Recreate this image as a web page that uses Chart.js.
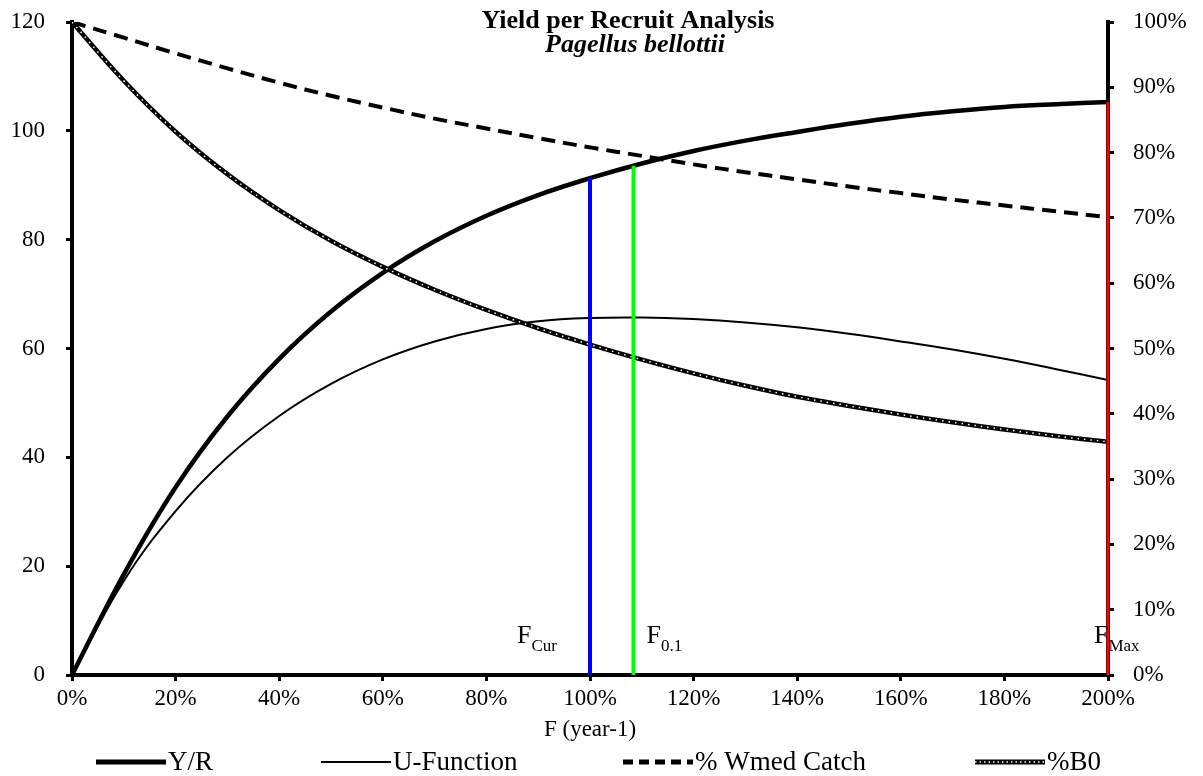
<!DOCTYPE html>
<html>
<head>
<meta charset="utf-8">
<script src="https://cdn.jsdelivr.net/npm/chart.js@4.4.0/dist/chart.umd.min.js"></script>
<style>
  html, body { margin: 0; padding: 0; background: #fff; }
  canvas { display: block; }
</style>
</head>
<body>
<canvas id="yprChart" width="1203" height="776"></canvas>
<script>
// ---- data ----
const fValues = [0, 10, 20, 30, 40, 50, 60, 70, 80, 90, 100, 110, 120, 130, 140, 150, 160, 170, 180, 190, 200];
const yieldPerRecruit = [0, 18.5, 34.5, 47.5, 58.1, 66.8, 73.9, 79.7, 84.4, 88.2, 91.3, 94, 96.3, 98.2, 99.8, 101.3, 102.6, 103.6, 104.4, 104.9, 105.3];
const uFunction = [0, 17.3, 30.1, 40, 47.6, 53.5, 58, 61.3, 63.6, 65, 65.6, 65.7, 65.4, 64.8, 63.9, 62.7, 61.3, 59.8, 58.1, 56.2, 54.2];
const wmedCatch = [100, 97.6, 95.2, 92.9, 90.7, 88.7, 86.9, 85.2, 83.7, 82.2, 80.8, 79.5, 78.2, 77, 75.9, 74.8, 73.8, 72.8, 71.9, 71, 70.1];
const biomassB0 = [100, 91, 83.2, 76.7, 71.2, 66.5, 62.5, 59, 55.9, 53.1, 50.6, 48.3, 46.2, 44.3, 42.6, 41.2, 39.9, 38.7, 37.6, 36.6, 35.7];

const refNames = ['Cur', '0.1', 'Max'];
const refF = [100, 108.4, 200];
const refYield = [91.3, 93.6, 105.3];
const refColors = ['#0000ff', '#00ff00', '#ff0000'];

const legendNames = ['Y/R', 'U-Function', '% Wmed Catch', '%B0'];

const SERIF = '"Liberation Serif", "DejaVu Serif", serif';

function pts(ys) {
    return fValues.map(function (f, i) { return { x: f, y: ys[i] }; });
}

const datasets = [];

// reference lines (F cur, F0.1, F max)
refF.forEach(function (f, i) {
    datasets.push({
        label: 'F' + refNames[i],
        data: [{ x: f, y: 0 }, { x: f, y: refYield[i] }],
        borderColor: refColors[i],
        borderWidth: i === 2 ? 3 : 4,
        tension: 0,
        clip: 4,
        yAxisID: 'y'
    });
});

// %B0 : white dots on a black line
datasets.push({
    label: '%B0 dots',
    data: pts(biomassB0),
    borderColor: '#ffffff',
    borderWidth: 1.5,
    borderDash: [1.5, 5],
    yAxisID: 'yPct'
});
datasets.push({
    label: '%B0',
    data: pts(biomassB0),
    borderColor: '#000000',
    borderWidth: 4.5,
    yAxisID: 'yPct'
});
datasets.push({
    label: '% Wmed Catch',
    data: pts(wmedCatch),
    borderColor: '#000000',
    borderWidth: 4,
    borderDash: [14, 8],
    yAxisID: 'yPct'
});
datasets.push({
    label: 'U-Function',
    data: pts(uFunction),
    borderColor: '#000000',
    borderWidth: 2,
    yAxisID: 'y'
});
datasets.push({
    label: 'Y/R',
    data: pts(yieldPerRecruit),
    borderColor: '#000000',
    borderWidth: 4.5,
    yAxisID: 'y'
});

// titles, F labels and bottom legend
const textPlugin = {
    id: 'textPlugin',
    afterDraw: function (chart) {
        const ctx = chart.ctx;
        const xs = chart.scales.x;
        const area = chart.chartArea;
        ctx.save();
        ctx.fillStyle = '#000';
        ctx.textBaseline = 'alphabetic';

        // title
        ctx.textAlign = 'center';
        ctx.font = 'bold 26px ' + SERIF;
        ctx.fillText('Yield per Recruit Analysis', 628, 28);
        ctx.font = 'italic bold 26px ' + SERIF;
        ctx.fillText('Pagellus bellottii', 635, 52);

        // F labels
        ctx.textAlign = 'left';
        const offs = [-73, 13, -14];
        refF.forEach(function (f, i) {
            const px = xs.getPixelForValue(f) + offs[i];
            ctx.font = '26px ' + SERIF;
            ctx.fillText('F', px, area.bottom - 32);
            const w = ctx.measureText('F').width;
            ctx.font = '17px ' + SERIF;
            ctx.fillText(refNames[i], px + w, area.bottom - 24);
        });

        // legend
        const ly = 762;
        const starts = [96, 321, 623, 975];
        const sw = 70;
        ctx.font = '27px ' + SERIF;
        ctx.textBaseline = 'middle';
        starts.forEach(function (sx, i) {
            ctx.lineCap = 'butt';
            if (i === 0) {
                ctx.lineWidth = 5; ctx.setLineDash([]);
                ctx.beginPath(); ctx.moveTo(sx, ly); ctx.lineTo(sx + sw, ly); ctx.stroke();
            } else if (i === 1) {
                ctx.lineWidth = 2; ctx.setLineDash([]);
                ctx.beginPath(); ctx.moveTo(sx, ly); ctx.lineTo(sx + sw, ly); ctx.stroke();
            } else if (i === 2) {
                ctx.lineWidth = 5; ctx.setLineDash([10, 6]);
                ctx.beginPath(); ctx.moveTo(sx, ly); ctx.lineTo(sx + sw, ly); ctx.stroke();
            } else {
                ctx.lineWidth = 5; ctx.setLineDash([]);
                ctx.beginPath(); ctx.moveTo(sx, ly); ctx.lineTo(sx + sw, ly); ctx.stroke();
                ctx.strokeStyle = '#fff'; ctx.lineWidth = 1.5; ctx.setLineDash([1.5, 3]);
                ctx.beginPath(); ctx.moveTo(sx, ly); ctx.lineTo(sx + sw, ly); ctx.stroke();
                ctx.strokeStyle = '#000';
            }
            ctx.setLineDash([]);
            ctx.fillText(legendNames[i], sx + sw + 2, ly + 1);
        });
        ctx.restore();
    }
};

function fixVertical(width) {
    return function (s) {
        s.width = width;
        s.paddingTop = 0;
        s.paddingBottom = 0;
    };
}

new Chart(document.getElementById('yprChart').getContext('2d'), {
    type: 'line',
    data: { datasets: datasets },
    plugins: [textPlugin],
    options: {
        responsive: false,
        animation: false,
        layout: { padding: { top: 22, left: 0, right: 0, bottom: 32 } },
        elements: {
            point: { radius: 0 },
            line: { tension: 0.4 }
        },
        plugins: {
            legend: { display: false },
            tooltip: { enabled: false },
            title: { display: false }
        },
        scales: {
            x: {
                type: 'linear',
                min: 0,
                max: 200,
                ticks: {
                    stepSize: 20,
                    color: '#000',
                    padding: 4,
                    font: { family: SERIF, size: 23 },
                    callback: function (v) { return v + '%'; }
                },
                grid: { drawOnChartArea: false, color: '#000', lineWidth: 3, tickLength: 6 },
                border: { color: '#000', width: 4 },
                title: {
                    display: true,
                    text: 'F (year-1)',
                    color: '#000',
                    font: { family: SERIF, size: 23 },
                    padding: { top: 0, bottom: 0 }
                },
                afterFit: function (s) { s.height = 69; }
            },
            y: {
                position: 'left',
                min: 0,
                max: 120,
                ticks: {
                    stepSize: 20,
                    color: '#000',
                    padding: 21,
                    font: { family: SERIF, size: 23 }
                },
                grid: { drawOnChartArea: false, color: '#000', lineWidth: 3, tickLength: 6 },
                border: { color: '#000', width: 4 },
                afterFit: fixVertical(72)
            },
            yPct: {
                position: 'right',
                min: 0,
                max: 100,
                ticks: {
                    stepSize: 10,
                    color: '#000',
                    padding: 19,
                    font: { family: SERIF, size: 23 },
                    callback: function (v) { return v + '%'; }
                },
                grid: { drawOnChartArea: false, color: '#000', lineWidth: 3, tickLength: 6 },
                border: { color: '#000', width: 4 },
                afterFit: fixVertical(95)
            }
        }
    }
});
</script>
</body>
</html>
